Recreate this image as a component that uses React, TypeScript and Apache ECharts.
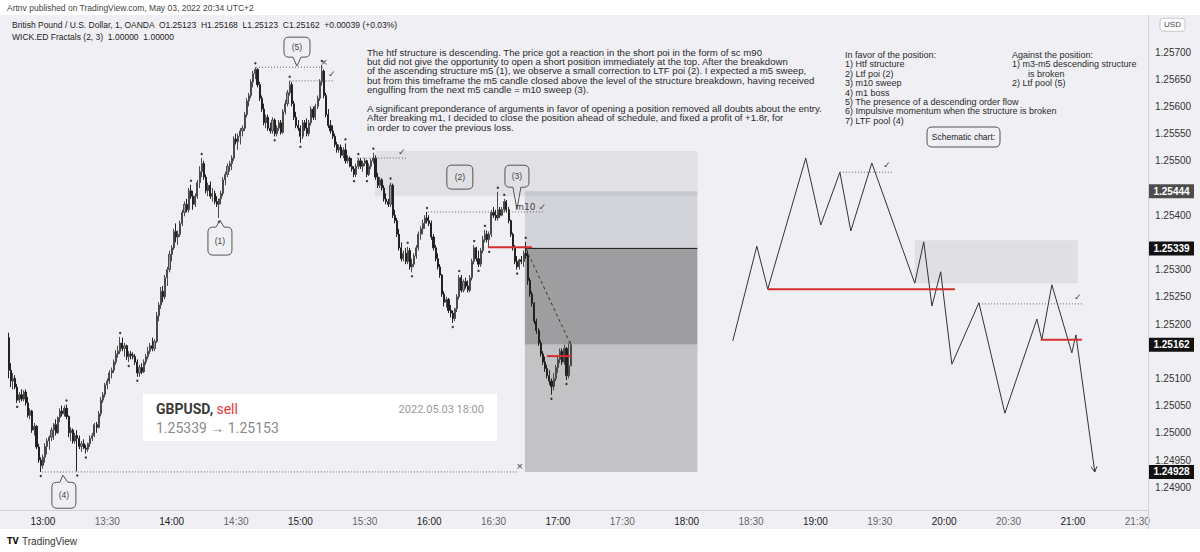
import React, { useEffect, useRef } from "react";
import * as echarts from "echarts";

// ---------- data ----------
const PRICE_BASE = 1.25;
const PRICE_UNIT = 100000; // candle values are in 0.00001 above 1.25000
const FIRST_MINUTE = 764; // 12:44 (minutes after midnight), one candle per minute

// [open, high, low, close]
const candles1244 = [
  [175,184,100,115],[115,128,84,95],[95,110,80,100],[100,106,80,84],[84,90,55,60],[60,75,55,70],[70,80,58,62],[62,78,58,75],[75,80,50,55],[55,66,28,32],
  [32,45,25,40],[40,42,0,5],[5,18,-5,12],[12,14,-30,-26],[-26,-20,-55,-50],[-50,-45,-72,-60],[-60,-40,-66,-45],[-45,-19,-55,-25],[-25,-10,-40,-15],[-15,-5,-31,-8],
  [-8,10,-15,5],[5,18,-13,15],[15,25,-5,0],[0,30,-2,28],[28,45,20,40],[40,50,30,35],[35,50,30,45],[45,52,25,30],[30,32,-8,0],[0,10,-15,5],
  [5,8,-20,-15],[-15,0,-20,-5],[-5,5,-71,-10],[-10,-5,-30,-25],[-25,-15,-35,-20],[-20,-12,-30,-28],[-28,-22,-38,-30],[-30,-18,-35,-20],[-20,-5,-26,-10],[-10,0,-15,-5],
  [-5,18,-8,15],[15,20,0,10],[10,40,8,35],[35,66,30,60],[60,75,55,70],[70,92,65,88],
];
const candles1330 = [
  [88,100,80,95],[95,115,90,110],[110,120,100,115],[115,135,110,130],[130,152,125,145],[145,160,138,150],[150,176,145,165],[165,175,150,155],[155,165,140,160],[160,162,134,140],
  [140,150,130,145],[145,150,135,142],[142,148,135,140],[140,145,125,130],[130,135,103,110],[110,125,103,120],[120,128,108,112],[112,135,110,130],[130,145,125,140],[140,158,135,150],
  [150,165,145,160],[160,175,150,155],[155,172,150,168],[168,222,165,215],[215,240,205,235],[235,268,228,260],[260,270,240,250],[250,290,245,285],[285,305,270,300],[300,335,295,328],
  [328,345,315,340],[340,375,336,370],[370,385,350,360],[360,372,345,365],[365,390,360,385],[385,410,380,405],[405,425,398,420],[420,430,405,410],[410,450,405,445],[445,456,430,435],
  [435,445,410,420],[420,440,415,435],[435,465,430,460],[460,490,450,480],[480,505,470,495],[495,500,465,470],[470,475,440,445],[445,460,435,455],[455,462,430,435],[435,450,425,440],
  [440,445,420,425],[425,435,415,420],[420,430,395,430],[430,445,420,440],[440,470,435,465],[465,480,455,475],[475,495,470,490],[490,500,480,495],[495,510,483,505],[505,545,500,540],
];
const candles1430 = [
  [540,550,530,535],[535,550,520,545],[545,560,530,555],[555,565,545,560],[560,590,555,585],[585,615,580,610],[610,625,600,620],[620,650,615,645],[645,665,635,660],[660,672,650,668],
  [668,670,635,640],[640,645,610,615],[615,620,590,595],[595,605,565,570],[570,585,560,580],[580,585,555,560],[560,570,550,555],[555,580,550,575],[575,578,545,550],[550,565,545,560],
  [560,575,555,570],[570,575,548,552],[552,595,550,590],[590,612,585,605],[605,630,600,625],[625,647,620,640],[640,645,600,605],[605,610,575,580],[580,590,560,565],[565,575,555,560],
  [560,565,533,545],[545,575,540,570],[570,575,555,560],[560,578,545,550],[550,575,545,570],[570,600,565,595],[595,600,575,580],[580,605,575,600],[600,620,595,615],[615,650,610,645],
  [645,676,638,665],[665,668,615,620],[620,625,580,585],[585,595,560,565],[565,575,550,555],[555,565,540,545],[545,550,525,530],[530,535,515,520],[520,530,515,525],[525,530,505,510],
  [510,525,505,520],[520,532,495,500],[500,510,495,505],[505,508,488,490],[490,505,480,485],[485,490,470,475],[475,495,470,490],[490,505,485,500],[500,505,485,490],[490,500,480,495],
];
const candles1530 = [
  [495,505,490,500],[500,502,470,475],[475,495,472,490],[490,504,485,500],[500,515,495,505],[505,510,465,470],[470,478,450,455],[455,470,450,465],[465,468,445,450],[450,455,425,430],
  [430,440,420,425],[425,430,415,420],[420,460,415,455],[455,458,395,400],[400,410,385,390],[390,395,360,365],[365,375,335,340],[340,350,315,320],[320,335,315,330],[330,340,310,315],
  [315,342,310,335],[335,340,300,305],[305,320,295,310],[310,330,305,325],[325,345,320,340],[340,370,335,365],[365,380,355,375],[375,392,365,385],[385,400,375,395],[395,406,385,390],
  [390,400,380,385],[385,390,355,360],[360,365,335,340],[340,345,315,320],[320,330,300,305],[305,310,285,290],[290,292,250,255],[255,260,232,240],[240,250,230,245],[245,248,220,225],
  [225,235,212,220],[220,225,202,210],[210,230,205,228],[228,255,222,250],[250,290,245,285],[285,290,258,262],[262,282,258,278],[278,285,265,270],[270,280,258,262],[262,290,258,285],
  [285,320,280,315],[315,345,310,340],[340,342,315,320],[320,335,305,310],[310,340,305,335],[335,362,330,355],[355,373,350,365],[365,372,350,355],[355,370,340,365],[365,410,360,405],
];
const candles1630 = [
  [405,415,395,400],[400,410,390,395],[395,443,390,410],[410,415,395,400],[400,415,398,410],[410,430,405,425],[425,428,405,410],[410,415,385,390],[390,392,360,365],[365,368,335,340],
  [340,345,310,315],[315,325,300,305],[305,320,300,318],[318,325,310,315],[315,335,305,330],[330,351,320,325],[325,335,272,280],[280,285,250,255],[255,260,232,238],[238,240,200,205],
  [205,210,182,188],[188,192,160,165],[165,170,140,145],[145,150,125,130],[130,140,112,118],[118,125,100,105],[105,115,88,95],[95,100,70,85],[85,110,78,100],[100,125,95,120],
  [120,140,110,135],[135,155,128,150],[150,155,125,130],[130,162,125,155],[155,158,97,105],[105,165,100,123],[123,168,123,162],
];

const timeTicks = [780, 810, 840, 870, 900, 930, 960, 990, 1020, 1050, 1080, 1110, 1140, 1170, 1200, 1230, 1260, 1290];
const priceTicks = ["1.24900","1.24950","1.25000","1.25050","1.25100","1.25150","1.25200","1.25250","1.25300","1.25350","1.25400","1.25450","1.25500","1.25550","1.25600","1.25650","1.25700","1.25750"];
const quoteCurrency = "USD";

// short position
const stopPrice = 1.25444;
const entryPrice = 1.25339;
const targetPrice = 1.24928;
const lastPrice = 1.25162;
const positionStart = 1004.6;
const positionEnd = 1085;
const entryTime = 1005;
const lastTime = 1026;

// zones: [time from, time to, price top, price bottom]
const poiZone = [934.7, 1085, 1.25518, 1.25435];
const schematicZone = [1186.3, 1262.3, 1.25354, 1.25275];

// horizontal levels: [time from, time to, price]
const dottedLevels = [
  [779.5, 1001.3, 1.24928],
  [879.3, 910.5, 1.25672],
  [895, 916, 1.25647],
  [926.3, 949.6, 1.25505],
  [959.4, 1013.5, 1.25406],
  [1151.4, 1175.6, 1.25479],
  [1216.2, 1264.6, 1.25237],
];
const levelMarks = ["×", "×", "✓", "✓", "m10 ✓", "✓", "✓"];
const redLevels = [
  [987.4, 1007.9, 1.25341],
  [1014.9, 1026.5, 1.25141],
  [1117.8, 1205, 1.25264],
  [1245, 1264.2, 1.25171],
];

// schematic chart
const schematicTimes = [1101.5, 1112.7, 1117.8, 1135.5, 1142.5, 1151.4, 1156.5, 1166.3, 1186.3, 1190.5, 1194.3, 1198.4, 1203.6, 1216.2, 1228.3, 1243.2, 1245.5, 1250.2, 1259.5, 1261.4, 1270.2];
const schematicPrices = [1.25169, 1.25343, 1.25264, 1.25505, 1.25382, 1.25479, 1.25371, 1.25496, 1.25275, 1.25351, 1.25233, 1.25296, 1.25126, 1.25239, 1.25036, 1.25209, 1.25171, 1.25272, 1.25147, 1.2518, 1.24928];

// callouts
const calloutLabels = ["(5)", "(1)", "(2)", "(3)", "(4)"];
const calloutTimes = [898.4, 862.5, 974.3, 1000.9, 789.3];
const calloutPrices = [1.25674, 1.25391, 1.2547, 1.25411, 1.24922];

const headerText = "Artnv published on TradingView.com, May 03, 2022 20:34 UTC+2";
const legendLines = [
  "British Pound / U.S. Dollar, 1, OANDA  O1.25123  H1.25168  L1.25123  C1.25162  +0.00039 (+0.03%)",
  "WICK.ED Fractals (2, 3)  1.00000  1.00000",
];
const storyLines = [
  "The htf structure is descending. The price got a reaction in the short poi in the form of sc m90",
  "but did not give the opportunity to open a short position immediately at the top. After the breakdown",
  "of the ascending structure m5 (1), we observe a small correction to LTF poi (2). I expected a m5 sweep,",
  "but from this timeframe the m5 candle closed above the level of the structure breakdown, having received",
  "engulfing from the next m5 candle = m10 sweep (3).",
  "",
  "A significant preponderance of arguments in favor of opening a position removed all doubts about the entry.",
  "After breaking m1, I decided to close the position ahead of schedule, and fixed a profit of +1.8r, for",
  "in order to cover the previous loss.",
];
const favorLines = [
  "In favor of the position:",
  "1) Htf structure",
  "2) Ltf poi (2)",
  "3) m10 sweep",
  "4) m1 boss",
  "5) The presence of a descending order flow",
  "6) Impulsive momentum when the structure is broken",
  "7) LTF pool (4)",
];
const againstLines = ["Against the position:", "1) m3-m5 descending structure", "is broken", "2) Ltf pool (5)"];
const tradeSymbol = "GBPUSD,";
const tradeSide = "sell";
const tradeRange = "1.25339 → 1.25153";
const tradeDate = "2022.05.03 18:00";

// ---------- helpers ----------
const toPrice = (v: number) => PRICE_BASE + v / PRICE_UNIT;
const allCandles = [...candles1244, ...candles1330, ...candles1430, ...candles1530, ...candles1630];
const candleData = allCandles.map(([o, h, l, c], i) => [FIRST_MINUTE + i, toPrice(o), toPrice(c), toPrice(l), toPrice(h)]);

const fractalHighs: number[][] = [];
const fractalLows: number[][] = [];
for (let i = 2; i < allCandles.length - 2; i++) {
  const h = allCandles[i][1];
  const l = allCandles[i][2];
  if (h > allCandles[i - 1][1] && h > allCandles[i - 2][1] && h >= allCandles[i + 1][1] && h >= allCandles[i + 2][1])
    fractalHighs.push([FIRST_MINUTE + i, toPrice(h)]);
  if (l < allCandles[i - 1][2] && l < allCandles[i - 2][2] && l <= allCandles[i + 1][2] && l <= allCandles[i + 2][2])
    fractalLows.push([FIRST_MINUTE + i, toPrice(l)]);
}

const Bubble = (echarts as any).graphic.extendShape({
  shape: { x: 0, y: 0, w: 0, h: 0, r: 4, tx: 0, ty: 0, ptr: 0, bw: 5 },
  buildPath(ctx: any, s: any) {
    const { x, y, w, h, r, tx, ty, ptr, bw } = s;
    const cx = x + w / 2;
    ctx.moveTo(x + r, y);
    if (ptr === 2) {
      ctx.lineTo(cx - bw, y);
      ctx.lineTo(tx, ty);
      ctx.lineTo(cx + bw, y);
    }
    ctx.lineTo(x + w - r, y);
    ctx.quadraticCurveTo(x + w, y, x + w, y + r);
    ctx.lineTo(x + w, y + h - r);
    ctx.quadraticCurveTo(x + w, y + h, x + w - r, y + h);
    if (ptr === 1) {
      ctx.lineTo(cx + bw, y + h);
      ctx.lineTo(tx, ty);
      ctx.lineTo(cx - bw, y + h);
    }
    ctx.lineTo(x + r, y + h);
    ctx.quadraticCurveTo(x, y + h, x, y + h - r);
    ctx.lineTo(x, y + r);
    ctx.quadraticCurveTo(x, y, x + r, y);
    ctx.closePath();
  },
});
(echarts as any).graphic.registerShape("bubble", Bubble);

const TEXT_FONT = "Liberation Sans, Arial, sans-serif";
const SYM_FONT = "DejaVu Sans, sans-serif";

export default function App() {
  const ref = useRef<HTMLDivElement>(null);
  useEffect(() => {
    document.body.style.margin = "0";
    const chart = echarts.init(ref.current!, undefined, { renderer: "svg" });
    const zoneColors = ["#e0e0e5", "rgba(150,150,165,0.32)", "#9e9ea1", "#c3c3c6", "#e0e0e4"];
    const zoneData = [
      [poiZone[0], poiZone[1], poiZone[2], poiZone[3], 0],
      [positionStart, positionEnd, stopPrice, entryPrice, 1],
      [positionStart, positionEnd, entryPrice, lastPrice, 2],
      [positionStart, positionEnd, lastPrice, targetPrice, 3],
      [schematicZone[0], schematicZone[1], schematicZone[2], schematicZone[3], 4],
    ];
    const badgePrices = [stopPrice, entryPrice, lastPrice, targetPrice];
    const topTick = Number(priceTicks[priceTicks.length - 1]);
    // tick labels hidden under the price badges / currency tag are not drawn
    const coveredBy = [...badgePrices, topTick];
    const visibleTicks = priceTicks.map(Number).filter((v) => coveredBy.every((b) => Math.abs(v - b) > 0.00016));

    const lineSeries = (data: number[][], style: any, z = 4) => ({
      type: "line",
      data,
      showSymbol: false,
      symbol: "none",
      silent: true,
      z,
      lineStyle: style,
    });
    const series: any[] = [
      {
        type: "custom",
        z: 1,
        silent: true,
        data: zoneData,
        encode: { x: [0, 1], y: [2, 3] },
        renderItem: (_p: any, api: any) => {
          const a = api.coord([api.value(0), api.value(2)]);
          const b = api.coord([api.value(1), api.value(3)]);
          return {
            type: "rect",
            shape: { x: a[0], y: a[1], width: b[0] - a[0], height: b[1] - a[1] },
            style: { fill: zoneColors[api.value(4)] },
          };
        },
      },
      {
        type: "candlestick",
        data: candleData,
        encode: { x: 0, y: [1, 2, 3, 4] },
        barWidth: 1.6,
        z: 3,
        silent: true,
        itemStyle: { color: "#9a9a9a", color0: "#222", borderColor: "#4a4a4a", borderColor0: "#222", borderWidth: 1 },
      },
      {
        type: "scatter",
        data: fractalHighs,
        symbolSize: 2.4,
        symbolOffset: [0, -4],
        itemStyle: { color: "#111" },
        z: 4,
        silent: true,
      },
      {
        type: "scatter",
        data: fractalLows,
        symbolSize: 2.4,
        symbolOffset: [0, 4],
        itemStyle: { color: "#111" },
        z: 4,
        silent: true,
      },
      lineSeries([[positionStart, entryPrice], [positionEnd, entryPrice]], { color: "#111", width: 1 }),
      lineSeries([[entryTime, entryPrice], [lastTime, lastPrice]], { color: "#333", width: 1, type: [3, 3] }),
      ...dottedLevels.map((d) => lineSeries([[d[0], d[2]], [d[1], d[2]]], { color: "#666", width: 1, type: [1, 2] })),
      ...redLevels.map((d) => lineSeries([[d[0], d[2]], [d[1], d[2]]], { color: "#d32f2f", width: 2 }, 5)),
      lineSeries(schematicTimes.map((t, i) => [t, schematicPrices[i]]), { color: "#333", width: 1 }),
    ];

    chart.setOption({
      animation: false,
      backgroundColor: "#f0f0f4",
      grid: { left: 0, right: 52, top: 18, bottom: 42 },
      xAxis: {
        type: "value",
        min: 760,
        max: 1295,
        axisLine: { show: true, lineStyle: { color: "#d2d2da" } },
        axisTick: { show: false },
        splitLine: { show: false },
        axisLabel: {
          customValues: timeTicks,
          margin: 6,
          fontSize: 10,
          fontFamily: TEXT_FONT,
          formatter: (v: number) => {
            const h = Math.floor(v / 60);
            const m = Math.round(v % 60);
            const s = `${h}:${m < 10 ? "0" + m : m}`;
            return m === 0 ? `{h|${s}}` : `{m|${s}}`;
          },
          rich: {
            h: { color: "#222", fontSize: 10, fontFamily: TEXT_FONT },
            m: { color: "#666", fontSize: 10, fontFamily: TEXT_FONT },
          },
        },
      },
      yAxis: {
        type: "value",
        position: "right",
        min: 1.248581,
        max: 1.257625,
        scale: true,
        axisLine: { show: true, lineStyle: { color: "#d2d2da" } },
        axisTick: { show: false },
        splitLine: { show: false },
        axisLabel: {
          customValues: visibleTicks,
          formatter: (v: number) => v.toFixed(5),
          color: "#333",
          fontSize: 10,
          margin: 7,
          fontFamily: TEXT_FONT,
        },
      },
      series,
    });

    const px = (t: number, p: number) => chart.convertToPixel({ xAxisIndex: 0, yAxisIndex: 0 }, [t, p]) as number[];
    const g: any[] = [];
    const txt = (x: number, y: number, text: string, o: any = {}) => {
      g.push({
        type: "text",
        x,
        y,
        z: o.z || 20,
        silent: true,
        style: {
          text,
          fill: o.fill || "#333",
          fontSize: o.size || 9,
          fontFamily: o.font || TEXT_FONT,
          fontWeight: o.weight || "normal",
          align: o.align || "left",
          verticalAlign: "middle",
        },
      });
    };

    // page bands
    g.push({ type: "rect", shape: { x: 0, y: 0, width: 1200, height: 15 }, style: { fill: "#fff" }, z: 15 });
    g.push({ type: "rect", shape: { x: 0, y: 529, width: 1200, height: 23 }, style: { fill: "#fff" }, z: 15 });
    g.push({ type: "line", shape: { x1: 1148.5, y1: 15, x2: 1148.5, y2: 529 }, style: { stroke: "#d2d2da", lineWidth: 1 }, z: 15 });
    txt(7, 8, headerText, { size: 8.5, fill: "#444" });
    txt(12, 25, legendLines[0], { size: 8.5, fill: "#222" });
    txt(12, 37, legendLines[1], { size: 8.5, fill: "#222" });
    txt(22, 541, "TradingView", { size: 10, fill: "#333" });
    txt(7, 541, "TV", { size: 8, fill: "#111", weight: "bold", font: "DejaVu Sans" });

    storyLines.forEach((s, i) => {
      if (s) txt(367, 52 + i * 9.4, s, { size: 9.6, fill: "#2a2a2a" });
    });
    favorLines.forEach((s, i) => txt(845, 55 + i * 9.4, s, { size: 9, fill: "#2a2a2a" }));
    againstLines.forEach((s, i) => txt(i === 2 ? 1028 : 1012, 55 + i * 9.4, s, { size: 9, fill: "#2a2a2a" }));

    g.push({
      type: "bubble",
      z: 20,
      shape: { x: 927, y: 127, w: 73, h: 20, r: 5, ptr: 0 },
      style: { fill: "none", stroke: "#555", lineWidth: 1 },
    });
    txt(963.5, 137, "Schematic chart:", { size: 8.5, fill: "#222", align: "center" });

    // callouts
    const boxes = [
      { dx: -13, dy: -29, w: 26, h: 20, ptr: 1 },
      { dx: -12, dy: 7, w: 24, h: 28, ptr: 2 },
      { dx: -13, dy: -12, w: 26, h: 24, ptr: 0 },
      { dx: -12, dy: -44, w: 24, h: 22, ptr: 1 },
      { dx: -11, dy: 7, w: 24, h: 26, ptr: 2 },
    ];
    calloutLabels.forEach((lab, i) => {
      const [tx, ty] = px(calloutTimes[i], calloutPrices[i]);
      const b = boxes[i];
      const x = tx + b.dx;
      const y = ty + b.dy;
      g.push({
        type: "bubble",
        z: 20,
        shape: { x, y, w: b.w, h: b.h, r: 5, tx, ty, ptr: b.ptr, bw: 4 },
        style: { fill: "none", stroke: "#555", lineWidth: 1 },
      });
      txt(x + b.w / 2, y + b.h / 2, lab, { size: 8.5, fill: "#444", align: "center" });
    });

    // marks at ends of dotted levels
    const markOffsets = [[2, -6], [1, -5], [-3, -7], [-5, -6], [2, -5], [-5, -7], [-5, -7]];
    dottedLevels.forEach((d, i) => {
      const [x, y] = px(d[1], d[2]);
      const m = levelMarks[i];
      txt(x + markOffsets[i][0], y + markOffsets[i][1], m, {
        size: 9,
        fill: "#444",
        align: m.length > 1 ? "right" : "center",
        font: SYM_FONT,
      });
    });

    // schematic arrow head
    {
      const n = schematicTimes.length;
      const [x1, y1] = px(schematicTimes[n - 2], schematicPrices[n - 2]);
      const [x2, y2] = px(schematicTimes[n - 1], schematicPrices[n - 1]);
      const ang = Math.atan2(y2 - y1, x2 - x1);
      const L = 6;
      const a1 = ang + Math.PI - 0.5;
      const a2 = ang + Math.PI + 0.5;
      g.push({
        type: "polyline",
        z: 20,
        shape: { points: [[x2 + L * Math.cos(a1), y2 + L * Math.sin(a1)], [x2, y2], [x2 + L * Math.cos(a2), y2 + L * Math.sin(a2)]] },
        style: { stroke: "#333", lineWidth: 1, fill: "none" },
      });
    }

    // price badges
    const badgeFills = ["#4d4d4d", "#111", "#111", "#111"];
    badgePrices.forEach((p, i) => {
      const [, y] = px(positionEnd, p);
      g.push({ type: "rect", z: 21, shape: { x: 1149, y: y - 7, width: 45, height: 14 }, style: { fill: badgeFills[i] } });
      txt(1171.5, y, p.toFixed(5), { size: 10, fill: "#fff", align: "center", weight: "bold", z: 22 });
    });
    // currency tag
    {
      const [, y] = px(positionEnd, topTick);
      g.push({ type: "rect", z: 21, shape: { x: 1160, y: y - 6.5, width: 25, height: 13, r: 3 }, style: { fill: "#fff", stroke: "#c8c8d0" } });
      txt(1172.5, y, quoteCurrency, { size: 8, fill: "#444", align: "center", z: 22 });
    }

    // trade card
    g.push({ type: "rect", z: 20, shape: { x: 143, y: 394, width: 354, height: 47 }, style: { fill: "#fff" } });
    g.push({
      type: "text",
      z: 21,
      x: 156,
      y: 409,
      style: {
        text: `{a|${tradeSymbol}} {b|${tradeSide}}`,
        verticalAlign: "middle",
        rich: {
          a: { fontSize: 14, fontWeight: "bold", fill: "#3a3a3a", fontFamily: "Roboto" },
          b: { fontSize: 14, fill: "#e53935", fontFamily: "Roboto" },
        },
      },
    });
    txt(156, 428, tradeRange, { size: 14, fill: "#8a8a8a", font: "Roboto", z: 21 });
    txt(484, 409, tradeDate, { size: 11, fill: "#9a9a9a", font: "Roboto", align: "right", z: 21 });

    chart.setOption({ graphic: { elements: g } });

    return () => chart.dispose();
  }, []);
  return <div ref={ref} style={{ width: 1200, height: 552 }} />;
}
